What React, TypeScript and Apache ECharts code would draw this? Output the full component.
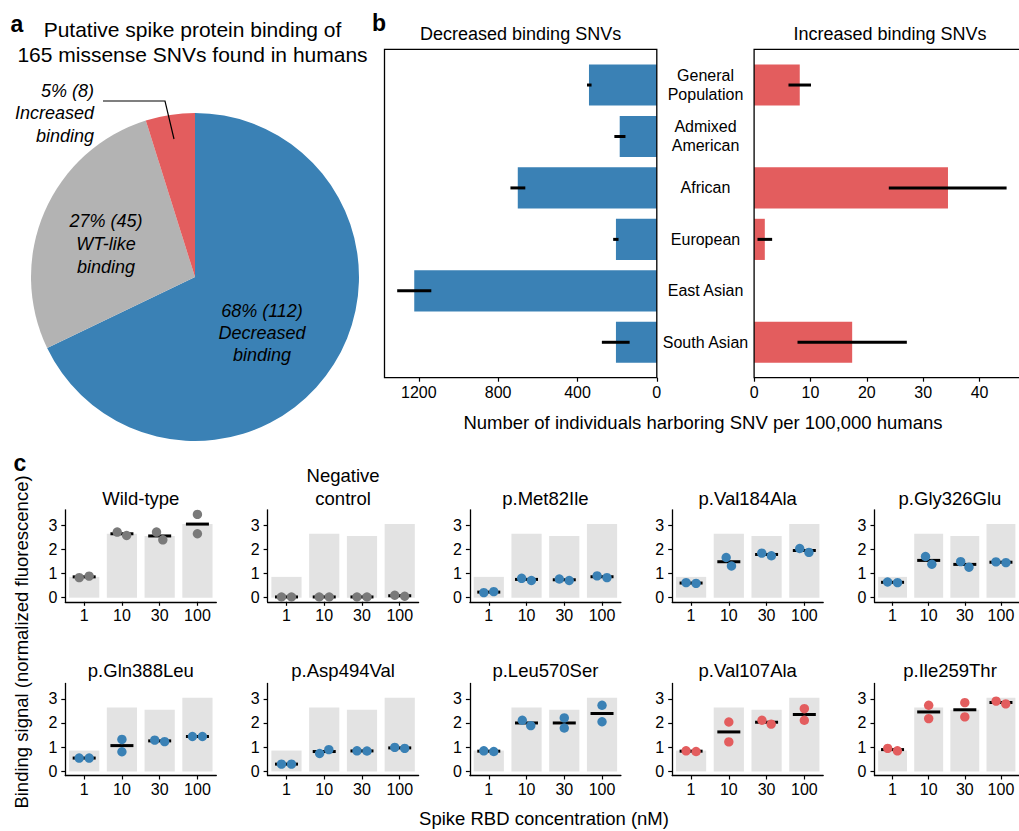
import React, { useEffect, useRef } from 'react';
import * as echarts from 'echarts';

const FONT = '"Liberation Sans", Arial, Helvetica, sans-serif';
const BLUE = '#3A81B5';
const RED = '#E35D5E';
const PIE_GRAY = '#B3B3B3';
const BG_BAR = '#E3E3E3';
const DOT_GRAY = '#7A7A7A';

// ---------- Panel a ----------
const pieLabels = ['Decreased\nbinding', 'WT-like\nbinding', 'Increased\nbinding'];
const pieCounts = [112, 45, 8];

// ---------- Panel b ----------
const populations = ['General\nPopulation', 'Admixed\nAmerican', 'African', 'European', 'East Asian', 'South Asian'];
const decreasedRate = [342, 187, 701, 206, 1223, 206];
const decreasedLow = [329, 158, 663, 193, 1137, 137];
const decreasedHigh = [352, 214, 738, 220, 1309, 277];
const increasedRate = [8.1, 0, 34.4, 1.9, 0, 17.4];
const increasedLow = [6.1, null, 23.9, 0.6, null, 7.7];
const increasedHigh = [10.1, null, 44.8, 3.2, null, 27.1];
const decreasedTicks = [0, 400, 800, 1200];
const increasedTicks = [0, 10, 20, 30, 40];

// ---------- Panel c ----------
const concentrations = ['1', '10', '30', '100'];
const signalTicks = [0, 1, 2, 3];
const wildType = [[0.83, 0.89], [2.71, 2.57], [2.71, 2.39], [3.44, 2.64]];
const negativeControl = [[0.03, 0.03], [0.03, 0.03], [0.03, 0.03], [0.10, 0.06]];
const met82Ile = [[0.21, 0.25], [0.80, 0.71], [0.77, 0.71], [0.90, 0.83]];
const val184Ala = [[0.62, 0.59], [1.66, 1.31], [1.84, 1.73], [2.03, 1.87]];
const gly326Glu = [[0.65, 0.62], [1.70, 1.38], [1.49, 1.26], [1.48, 1.45]];
const gln388Leu = [[0.55, 0.55], [1.32, 0.81], [1.29, 1.23], [1.44, 1.44]];
const asp494Val = [[0.30, 0.30], [0.74, 0.90], [0.85, 0.84], [0.99, 0.95]];
const leu570Ser = [[0.85, 0.82], [2.11, 1.89], [2.21, 1.79], [2.73, 2.05]];
const val107Ala = [[0.85, 0.82], [2.04, 1.22], [2.11, 1.95], [2.59, 2.11]];
const ile259Thr = [[0.95, 0.85], [2.73, 2.18], [2.84, 2.25], [2.90, 2.79]];
const variantNames = ['Wild-type', 'Negative\ncontrol', 'p.Met82Ile', 'p.Val184Ala', 'p.Gly326Glu',
  'p.Gln388Leu', 'p.Asp494Val', 'p.Leu570Ser', 'p.Val107Ala', 'p.Ile259Thr'];
const variantData = [wildType, negativeControl, met82Ile, val184Ala, gly326Glu,
  gln388Leu, asp494Val, leu570Ser, val107Ala, ile259Thr];
const variantClass = ['control', 'control', 'decreased', 'decreased', 'decreased',
  'decreased', 'decreased', 'decreased', 'increased', 'increased'];

const classColor: Record<string, string> = { control: DOT_GRAY, decreased: BLUE, increased: RED };

function buildOption() {
  const txt = (text: string, x: number, y: number, size: number, extra: any = {}) => ({
    type: 'text',
    x, y,
    z: 100,
    ...(extra.rotation ? { rotation: extra.rotation } : {}),
    style: {
      text,
      fill: '#000',
      fontSize: size,
      fontFamily: FONT,
      fontStyle: extra.italic ? 'italic' : 'normal',
      fontWeight: extra.bold ? 'bold' : 'normal',
      lineHeight: extra.lineHeight || size * 1.2,
      align: extra.align || 'center',
      textAlign: extra.align || 'center',
      verticalAlign: extra.valign || 'middle',
      textVerticalAlign: extra.valign || 'middle',
    },
  });

  const total = pieCounts.reduce((a, b) => a + b, 0);
  const pct = pieCounts.map((c) => Math.round((c / total) * 100));
  const pieText = pieLabels.map((l, i) => `${pct[i]}% (${pieCounts[i]})\n${l}`);

  const graphics: any[] = [
    txt('a', 17, 24, 23, { bold: true }),
    txt('b', 379, 23, 23, { bold: true }),
    txt('c', 20, 463, 23, { bold: true }),
    txt('Putative spike protein binding of\n165 missense SNVs found in humans', 192.5, 41.5, 21, { lineHeight: 25 }),
    txt(pieText[0], 262, 333, 18, { italic: true, lineHeight: 22 }),
    txt(pieText[1], 106, 244, 18, { italic: true, lineHeight: 23 }),
    txt(pieText[2], 94, 113, 18, { italic: true, lineHeight: 22.5, align: 'right' }),
    {
      type: 'polyline',
      z: 100,
      shape: { points: [[103, 101], [165, 101], [174, 139]] },
      style: { stroke: '#000', lineWidth: 1.2, fill: 'none' },
    },
    txt('Decreased binding SNVs', 520.6, 34, 18),
    txt('Increased binding SNVs', 890, 34, 18),
    txt('Number of individuals harboring SNV per 100,000 humans', 703, 422, 18.5),
    {
      type: 'rect',
      z: 100,
      shape: { x: 384.5, y: 49.3, width: 272.3, height: 328.4 },
      style: { fill: 'none', stroke: '#000', lineWidth: 1.3 },
    },
    {
      type: 'rect',
      z: 100,
      shape: { x: 754.1, y: 49.3, width: 300, height: 328.4 },
      style: { fill: 'none', stroke: '#000', lineWidth: 1.3 },
    },
    txt('Binding signal (normalized fluorescence)', 21, 642, 18.5, { rotation: Math.PI / 2 }),
    txt('Spike RBD concentration (nM)', 544, 818, 18.5),
  ];

  const plain = (v: number) => String(v);

  const grids: any[] = [
    { left: 384.5, top: 59.3, width: 272.3, height: 308.7 },
    { left: 754.1, top: 59.3, width: 272.3, height: 308.7 },
  ];
  const xAxes: any[] = [
    {
      gridIndex: 0, type: 'value', inverse: true, min: 0, max: 1373, offset: 9.7,
      axisLine: { show: false },
      axisTick: { show: true, length: 4, customValues: decreasedTicks, lineStyle: { color: '#000', width: 1.2 } },
      axisLabel: { customValues: decreasedTicks, formatter: plain, fontSize: 16, fontFamily: FONT, color: '#000', margin: 7 },
      splitLine: { show: false },
    },
    {
      gridIndex: 1, type: 'value', min: 0, max: 47, offset: 9.7,
      axisLine: { show: false },
      axisTick: { show: true, length: 4, customValues: increasedTicks, lineStyle: { color: '#000', width: 1.2 } },
      axisLabel: { customValues: increasedTicks, formatter: plain, fontSize: 16, fontFamily: FONT, color: '#000', margin: 7 },
      splitLine: { show: false },
    },
  ];
  const yAxes: any[] = [
    {
      gridIndex: 0, type: 'category', inverse: true, data: populations, position: 'right',
      axisLine: { show: false }, axisTick: { show: false },
      axisLabel: { align: 'center', margin: 48.7, fontSize: 16, fontFamily: FONT, color: '#000', lineHeight: 19 },
    },
    {
      gridIndex: 1, type: 'category', inverse: true, data: populations,
      axisLine: { show: false }, axisTick: { show: false }, axisLabel: { show: false },
    },
  ];

  const errRows = (lo: (number | null)[], hi: (number | null)[]) =>
    lo.map((l, i) => (l == null ? null : [l, hi[i], i])).filter((r) => r != null);

  const errorRender = (params: any, api: any) => {
    const p1 = api.coord([api.value(0), api.value(2)]);
    const p2 = api.coord([api.value(1), api.value(2)]);
    return {
      type: 'line',
      shape: { x1: p1[0], y1: p1[1], x2: p2[0], y2: p2[1] },
      style: { stroke: '#000', lineWidth: 3 },
    };
  };

  const series: any[] = [
    {
      type: 'pie', center: [195, 277], radius: 164, startAngle: 90, clockwise: true, silent: true,
      label: { show: false }, labelLine: { show: false },
      data: pieCounts.map((c, i) => ({ value: c, name: pieLabels[i], itemStyle: { color: [BLUE, PIE_GRAY, RED][i] } })),
    },
    {
      type: 'bar', xAxisIndex: 0, yAxisIndex: 0, data: decreasedRate, barWidth: '80%', z: 2,
      itemStyle: { color: BLUE }, silent: true,
    },
    {
      type: 'custom', xAxisIndex: 0, yAxisIndex: 0, data: errRows(decreasedLow, decreasedHigh), z: 5,
      encode: { x: [0, 1], y: 2 }, renderItem: errorRender, silent: true,
    },
    {
      type: 'bar', xAxisIndex: 1, yAxisIndex: 1, data: increasedRate, barWidth: '80%', z: 2,
      itemStyle: { color: RED }, silent: true,
    },
    {
      type: 'custom', xAxisIndex: 1, yAxisIndex: 1, data: errRows(increasedLow, increasedHigh), z: 5,
      encode: { x: [0, 1], y: 2 }, renderItem: errorRender, silent: true,
    },
  ];

  const wtMeans = wildType.map((p) => (p[0] + p[1]) / 2);
  const colLeft = 65.3;
  const colStep = 202.3;
  const rowTop = [509.8, 683.5];
  const titleBottom = [509.3, 681.7];
  const D = 10;

  variantData.forEach((vals, k) => {
    const gi = k + 2;
    const row = Math.floor(k / 5);
    const col = k % 5;
    const left = colLeft + colStep * col;
    grids.push({ left, top: rowTop[row], width: 151, height: 92 });
    graphics.push(txt(variantNames[k], left + 75.5, titleBottom[row], 18.5, { valign: 'bottom', lineHeight: 22.3 }));
    xAxes.push({
      gridIndex: gi, type: 'category', data: concentrations,
      axisLine: { show: true, onZero: false, lineStyle: { color: '#000', width: 1.3 } },
      axisTick: { show: true, alignWithLabel: true, length: 4, lineStyle: { color: '#000', width: 1.2 } },
      axisLabel: { fontSize: 16, fontFamily: FONT, color: '#000', margin: 6 },
    });
    yAxes.push({
      gridIndex: gi, type: 'value', min: -0.17, max: 3.63,
      axisLine: { show: true, onZero: false, lineStyle: { color: '#000', width: 1.3 } },
      axisTick: { show: true, length: 4, customValues: signalTicks, lineStyle: { color: '#000', width: 1.2 } },
      axisLabel: { customValues: signalTicks, formatter: plain, fontSize: 16, fontFamily: FONT, color: '#000', margin: 8 },
      splitLine: { show: false },
    });
    series.push({
      type: 'bar', xAxisIndex: gi, yAxisIndex: gi, data: wtMeans, barWidth: '80%', z: 2,
      itemStyle: { color: BG_BAR }, silent: true,
    });
    const color = classColor[variantClass[k]];
    series.push({
      type: 'custom', xAxisIndex: gi, yAxisIndex: gi, silent: true, clip: false, z: 5,
      data: vals.map((p, i) => [i, p[0], p[1]]),
      encode: { x: 0, y: [1, 2] },
      renderItem: (params: any, api: any) => {
        const ci = api.value(0);
        const v1 = api.value(1);
        const v2 = api.value(2);
        const cx = api.coord([ci, 0])[0];
        const y1 = api.coord([ci, v1])[1];
        const y2 = api.coord([ci, v2])[1];
        const ym = api.coord([ci, (v1 + v2) / 2])[1];
        const dy = Math.abs(y1 - y2);
        const dx = dy < D ? Math.sqrt(D * D - dy * dy) : 0;
        return {
          type: 'group',
          children: [
            { type: 'line', shape: { x1: cx - 11.5, y1: ym, x2: cx + 11.5, y2: ym }, style: { stroke: '#000', lineWidth: 3 } },
            { type: 'circle', shape: { cx: cx - dx / 2, cy: y1, r: 4.7 }, style: { fill: color } },
            { type: 'circle', shape: { cx: cx + dx / 2, cy: y2, r: 4.7 }, style: { fill: color } },
          ],
        };
      },
    });
  });

  return {
    animation: false,
    backgroundColor: '#fff',
    textStyle: { fontFamily: FONT },
    grid: grids,
    xAxis: xAxes,
    yAxis: yAxes,
    series,
    graphic: graphics,
  };
}

export default function App() {
  const ref = useRef<HTMLDivElement>(null);
  useEffect(() => {
    if (!ref.current) return;
    const chart = echarts.init(ref.current, undefined, { renderer: 'svg' });
    chart.setOption(buildOption() as any);
    return () => chart.dispose();
  }, []);
  return (
    <div
      ref={ref}
      style={{ position: 'absolute', left: 0, top: 0, width: 1019, height: 831, background: '#fff' }}
    />
  );
}
